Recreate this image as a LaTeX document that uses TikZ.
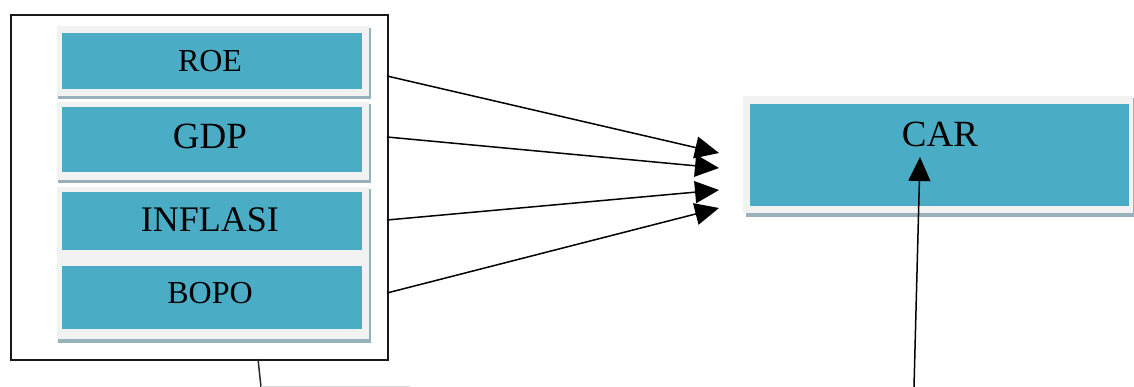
\documentclass[tikz,border=0pt]{standalone}
\usepackage{fontspec}
\setmainfont{Liberation Serif}
\usetikzlibrary{arrows.meta}
\definecolor{cyanbox}{HTML}{4BACC6}
\definecolor{panelgrey}{HTML}{F2F2F2}
\definecolor{shadowc}{HTML}{98B2BC}
\tikzset{
  varbox/.style={fill=cyanbox, draw=none, inner sep=0pt, anchor=north west, text=black},
  panel/.style={fill=panelgrey, draw=none},
  shade/.style={fill=shadowc, draw=none},
  link/.style={line width=1.5pt, draw=black, -{Triangle[length=24pt,width=22pt]}},
  plain/.style={line width=1.5pt, draw=black!85}
}
\begin{document}
\begin{tikzpicture}[x=1pt,y=-1pt]
\useasboundingbox (0,0) rectangle (1134,387);
% outer box
\node[draw=black!90, line width=1.6pt, minimum width=377pt, minimum height=345pt, inner sep=0pt, anchor=north west] (outer) at (10,14) {};
% panels with shadows
\fill[shade] (58,28) rectangle (371,99);
\fill[panel] (57,26) rectangle (369,96);
\fill[shade] (58,104) rectangle (371,183);
\fill[panel] (57,102) rectangle (369,180);
\fill[shade] (58,189) rectangle (371,343);
\fill[panel] (57,187) rectangle (369,339);
\fill[shade] (746,98) rectangle (1134,217);
\fill[panel] (743,96) rectangle (1133,213);
% variable boxes
\node[varbox, minimum width=300pt, minimum height=56pt] (roe) at (62,33) {};
\node[font=\fontsize{32}{36}\selectfont] (roet) at (210,61) {ROE};
\node[varbox, minimum width=300pt, minimum height=65pt] (gdp) at (62,107) {};
\node[font=\fontsize{37}{40}\selectfont] (gdpt) at (210,136) {GDP};
\node[varbox, minimum width=300pt, minimum height=58pt] (inf) at (62,192) {};
\node[font=\fontsize{36}{40}\selectfont] (inft) at (210,220) {INFLASI};
\node[varbox, minimum width=300pt, minimum height=63pt] (bopo) at (62,266) {};
\node[font=\fontsize{32}{36}\selectfont] (bopot) at (210,293) {BOPO};
\node[varbox, minimum width=379pt, minimum height=102pt] (car) at (750,104) {};
\node[font=\fontsize{37}{40}\selectfont] (cart) at (940,134) {CAR};
% connector end points
\coordinate (s1) at (387,76);
\coordinate (s2) at (387,137);
\coordinate (s3) at (387,220);
\coordinate (s4) at (387,293);
\coordinate (t1) at (719,153);
\coordinate (t2) at (719,168);
\coordinate (t3) at (719,190);
\coordinate (t4) at (719,208);
\coordinate (b0) at (914,387);
\coordinate (btip) at (920,157);
\coordinate (o1) at (258,359);
\coordinate (o2) at (261,387);
\coordinate (o3) at (410,386.5);
\draw[link] (s1) -- (t1);
\draw[link] (s2) -- (t2);
\draw[link] (s3) -- (t3);
\draw[link] (s4) -- (t4);
\draw[link] (b0) -- (btip);
\draw[plain] (o1) -- (o2);
\draw[line width=1pt, draw=black!15] (o2) ++(0,-0.5) -- (o3);
\end{tikzpicture}
\end{document}
